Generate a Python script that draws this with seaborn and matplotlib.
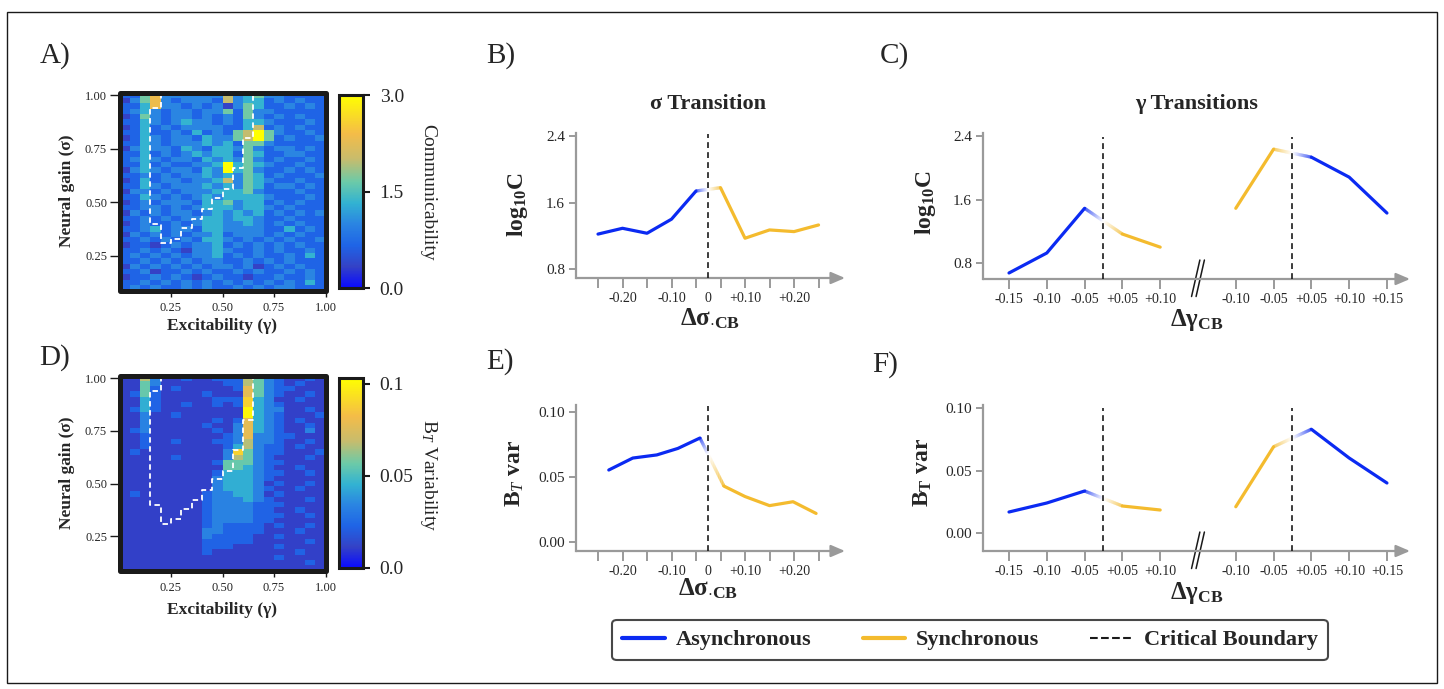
import numpy as np
import matplotlib
matplotlib.use('Agg')
import matplotlib.pyplot as plt
import matplotlib.transforms as mtransforms
import seaborn as sns
from matplotlib.colors import LinearSegmentedColormap, to_rgb
from matplotlib.collections import LineCollection
from matplotlib.lines import Line2D
from matplotlib.patches import Rectangle

sns.set_theme(style='white')
plt.rcParams['font.family'] = ['Liberation Serif', 'DejaVu Serif']
plt.rcParams['mathtext.fontset'] = 'custom'
plt.rcParams['mathtext.rm'] = 'Liberation Serif'
plt.rcParams['mathtext.it'] = 'Liberation Serif:italic'
plt.rcParams['mathtext.bf'] = 'Liberation Serif:bold'

# ---------------- data ----------------
# heatmaps: 20 gamma cells (0.05 wide, 0..1), 37 sigma rows (1.0 at top, 0.1 at bottom)
# digits are colour levels
comm_rows = [  # communicability, value = digit / 3
    "22573333336345332222", "13573233326344232322", "22473323231354223232",
    "23432332335253322222", "12532332323253232322", "22432343323244322232",
    "12423233332246232322", "22422324232569532232", "12432332433569523223",
    "22432333434255322222", "13433243244353233232", "22423234344254223322",
    "23432332434353232232", "22423223349454322322", "13432332439453223232",
    "22323233434354232223", "12423323346354322322", "22432333434354233232",
    "13323233344453222322", "22432323434444322232", "12323332445344232322",
    "22332323444344323222", "13232332343434232323", "22323233443443223222",
    "12322323443343232322", "22342332443333224232", "13232323342333232322",
    "22323232443232323223", "12212323342323232322", "22323213343223232232",
    "23232323342323223242", "22323232332232323222", "13232323233231232322",
    "22312232322323223232", "12232321232212232232", "22323232323232323242",
    "23232232322323233222",
]
btvar_rows = [  # B_T variability, value = digit / 90
    "11631121122265321121", "11531111112265321211", "11521211111275322111",
    "12521111211175321121", "11421111122284311211", "11421121121284321111",
    "12421111111194331121", "11311211111194321112", "11311111121274321211",
    "11311111211374321121", "12311111121374321131", "11211111112373322111",
    "11211211122363321121", "11211111112463221211", "12111111113853221112",
    "11111211113653211121", "11111111125553221111", "11111111115543211211",
    "11111111124443221121", "11111111134443211111", "11111111134443121121",
    "11111111134443211211", "12111111233443121111", "11111111233343211121",
    "11111111233332221111", "11111111233332211211", "11111111233332221121",
    "11111111233332211111", "11111111232222121121", "11111111332222111211",
    "11111111322221121111", "11111111222221111121", "11111111222111121111",
    "11111111211111111211", "11111111111111121111", "11111111111111111121",
    "11111111111111111111",
]
hm_ticks = [0.25, 0.50, 0.75, 1.00]
hm_tick_labels = ['0.25', '0.50', '0.75', '1.00']
# critical boundary (gamma, sigma) vertices
cb_gamma = [0.20, 0.20, 0.15, 0.15, 0.20, 0.20, 0.25, 0.25, 0.30, 0.30, 0.35, 0.35,
            0.40, 0.40, 0.45, 0.45, 0.50, 0.50, 0.55, 0.55, 0.60, 0.60, 0.65, 0.65]
cb_sigma = [1.01, 0.94, 0.94, 0.40, 0.40, 0.31, 0.31, 0.33, 0.33, 0.38, 0.38, 0.42,
            0.42, 0.47, 0.47, 0.52, 0.52, 0.56, 0.56, 0.66, 0.66, 0.80, 0.80, 1.01]

# sigma transition (B, E): offsets from critical boundary
sig_async_d = [-0.25, -0.20, -0.15, -0.10, -0.05]
sig_sync_d = [0.05, 0.10, 0.15, 0.20, 0.25]
sig_logc_async = [1.22, 1.29, 1.23, 1.40, 1.74]
sig_logc_sync = [1.78, 1.17, 1.27, 1.25, 1.33]
sig_bt_async_d = [-0.228, -0.179, -0.130, -0.087, -0.042]
sig_bt_sync_d = [0.057, 0.100, 0.150, 0.198, 0.245]
sig_bt_async = [0.0554, 0.0646, 0.067, 0.072, 0.080]
sig_bt_sync = [0.043, 0.035, 0.028, 0.031, 0.022]

# gamma transitions (C, F): low-gamma boundary and high-gamma boundary
gam1_async_d = [-0.15, -0.10, -0.05]
gam1_sync_d = [0.05, 0.10]
gam2_sync_d = [-0.10, -0.05]
gam2_async_d = [0.05, 0.10, 0.15]
gam1_logc_async = [0.674, 0.926, 1.49]
gam1_logc_sync = [1.165, 1.00]
gam2_logc_sync = [1.49, 2.236]
gam2_logc_async = [2.135, 1.883, 1.43]
gam1_bt_async = [0.0168, 0.024, 0.0336]
gam1_bt_sync = [0.0216, 0.0184]
gam2_bt_sync = [0.021, 0.069]
gam2_bt_async = [0.083, 0.060, 0.040]

sig_tick_pos = list(range(10))
sig_tick_labels = ['', '-0.20', '', '-0.10', '', '', '+0.10', '', '+0.20', '']
gam_tick_pos = [0, 1, 2, 3, 4, 6, 7, 8, 9, 10]
gam_tick_labels = ['-0.15', '-0.10', '-0.05', '+0.05', '+0.10',
                   '-0.10', '-0.05', '+0.05', '+0.10', '+0.15']

# ---------------- style ----------------
BLUE = '#0b2af2'
YELLOW = '#f4bb2e'
GREY = '#9a9a9a'
LW = 2.3
DASH = (0, (3.5, 2.5))
cmap = LinearSegmentedColormap.from_list('parulaish', [
    (0.00, '#0a0aff'), (0.11, '#3442c6'), (0.22, '#1f64e6'), (0.33, '#2a84e2'),
    (0.44, '#32b2d2'), (0.55, '#6ccaa8'), (0.67, '#c8bc6c'), (0.80, '#f4bc48'),
    (1.00, '#ffff00')])

W, H = 1444, 689
fig = plt.figure(figsize=(W / 100, H / 100), dpi=100)


def box(x0, y0, x1, y1):
    return [x0 / W, 1 - y1 / H, (x1 - x0) / W, (y1 - y0) / H]


SIG_TOP, CELL_S, CELL_G = 1.0125, 0.025, 0.05


def heat(ax, cax, grid, vmax, cticks, clabels, clabel, clabel_y):
    sns.heatmap(grid, ax=ax, cmap=cmap, vmin=0, vmax=vmax, cbar_ax=cax,
                xticklabels=False, yticklabels=False)
    ax.set_xticks([g / CELL_G for g in hm_ticks])
    ax.set_xticklabels(hm_tick_labels, rotation=0)
    ax.set_yticks([(SIG_TOP - s) / CELL_S for s in hm_ticks])
    ax.set_yticklabels(hm_tick_labels, rotation=0)
    ax.tick_params(axis='y', left=True, length=7.5, width=1, color='k', pad=1.5, labelsize=9)
    ax.tick_params(axis='x', bottom=True, length=4, width=1, color='k', pad=4, labelsize=9)
    ax.plot(np.array(cb_gamma) / CELL_G, (SIG_TOP - np.array(cb_sigma)) / CELL_S,
            color='white', ls=(0, (3, 2)), lw=1.3)
    ax.add_patch(Rectangle((0, 0), 1, 1, transform=ax.transAxes, fill=False, ec='k',
                           lw=3.6, clip_on=False, joinstyle='round', zorder=10))
    cbar = ax.collections[0].colorbar
    cbar.set_ticks(cticks)
    cbar.set_ticklabels(clabels)
    cbar.outline.set_edgecolor('k')
    cbar.outline.set_linewidth(2.2)
    cax.tick_params(right=True, length=5, width=1.5, color='k', labelsize=14, pad=7)
    fig.text(428 / W, 1 - clabel_y / H, clabel, rotation=270, ha='center', va='center', fontsize=14)


comm = np.array([[int(c) for c in r] for r in comm_rows]) / 3
btvar = np.array([[int(c) for c in r] for r in btvar_rows]) / 90

axA = fig.add_axes(box(119.5, 92.5, 325.5, 290.5))
caxA = fig.add_axes(box(339, 95, 363, 288))
heat(axA, caxA, comm, 3.0, [0, 1.5, 3.0], ['0.0', '1.5', '3.0'], 'Communicability', 192)

axD = fig.add_axes(box(119.5, 375.5, 325.5, 570.5))
caxD = fig.add_axes(box(339, 378, 363, 568))
heat(axD, caxD, btvar, 0.103, [0, 0.05, 0.1], ['0.0', '0.05', '0.1'],
     r'B$_{\mathit{T}}$ Variability', 475)

for yc, yl in [(191, 326), (473, 610)]:
    fig.text(67 / W, 1 - yc / H, 'Neural gain (σ)', rotation=90, ha='center', va='center',
             fontsize=12.5, fontweight='bold')
    fig.text(222 / W, 1 - yl / H, 'Excitability (γ)', ha='center', va='center',
             fontsize=12.5, fontweight='bold')


def to_pos(d, cb):
    d = np.asarray(d, float)
    return cb + d / 0.05 + np.where(d < 0, 0.5, -0.5)


def fade(ax, x0, y0, x1, y1, c0, c1, n=40):
    xs = np.linspace(x0, x1, n + 1)
    ys = np.linspace(y0, y1, n + 1)
    segs = np.stack([np.column_stack([xs[:-1], ys[:-1]]), np.column_stack([xs[1:], ys[1:]])], axis=1)
    t = np.linspace(0, 1, n)[:, None]
    cols = (1 - t) * np.array(to_rgb(c0)) + t * np.array(to_rgb(c1))
    ax.add_collection(LineCollection(segs, colors=cols, lw=LW, capstyle='butt'))


def group(ax, cb, ld, ly, lc, rd, ry, rc, ymax):
    lx, rx = to_pos(ld, cb), to_pos(rd, cb)
    sns.lineplot(x=lx, y=ly, ax=ax, color=lc, lw=LW, estimator=None, sort=False)
    sns.lineplot(x=rx, y=ry, ax=ax, color=rc, lw=LW, estimator=None, sort=False)
    x0, y0, x1, y1 = lx[-1], ly[-1], rx[0], ry[0]
    yc = y0 + (y1 - y0) * (cb - x0) / (x1 - x0)
    fade(ax, x0, y0, cb, yc, lc, 'white')
    fade(ax, cb, yc, x1, y1, 'white', rc)
    ax.axvline(cb, ymax=ymax, color='k', ls=DASH, lw=1.2, zorder=5)


def style(ax, xlim, ylim, yticks, ylabels, xpos, xlabels, zero=None):
    ax.set_xlim(xlim)
    ax.set_ylim(ylim)
    for s in ['top', 'right', 'bottom']:
        ax.spines[s].set_visible(False)
    ax.spines['left'].set_color(GREY)
    ax.spines['left'].set_linewidth(1.6)
    ax.annotate('', xy=(1, 0), xytext=(0, 0), xycoords='axes fraction',
                arrowprops=dict(arrowstyle='-|>,head_length=0.7,head_width=0.3',
                                lw=1.6, color=GREY, shrinkA=0, shrinkB=0))
    ax.set_yticks(yticks)
    ax.set_yticklabels(ylabels)
    ax.set_xticks(xpos)
    ax.set_xticklabels(xlabels)
    ax.tick_params(axis='y', left=True, length=5, width=1.4, color=GREY, pad=3, labelsize=11)
    ax.tick_params(axis='x', bottom=True, length=7, width=1.4, color=GREY, pad=3, labelsize=10)
    if zero is not None:
        ax.set_xticks([zero], minor=True)
        ax.set_xticklabels(['0'], minor=True)
        ax.tick_params(axis='x', which='minor', bottom=True, length=0, pad=10, labelsize=10)
    ax.set_xlabel('')
    ax.set_ylabel('')
    ax.grid(False)


def broken(ax):
    tr = mtransforms.blended_transform_factory(ax.transData, ax.transAxes)
    for dx in (-0.06, 0.06):
        ax.plot([4.89 + dx, 5.11 + dx], [-0.12, 0.13], color='k', lw=1.1,
                transform=tr, clip_on=False)


axB = fig.add_axes(box(576, 133, 845, 278))
group(axB, 4.5, sig_async_d, sig_logc_async, BLUE, sig_sync_d, sig_logc_sync, YELLOW, 0.99)
style(axB, (-0.898, 10.08), (0.69, 2.44), [0.8, 1.6, 2.4], ['0.8', '1.6', '2.4'],
      sig_tick_pos, sig_tick_labels, zero=4.5)

axE = fig.add_axes(box(576, 405, 845, 551))
group(axE, 4.5, sig_bt_async_d, sig_bt_async, BLUE, sig_bt_sync_d, sig_bt_sync, YELLOW, 0.99)
style(axE, (-0.898, 10.08), (-0.0069, 0.1054), [0, 0.05, 0.10], ['0.00', '0.05', '0.10'],
      sig_tick_pos, sig_tick_labels, zero=4.5)

axC = fig.add_axes(box(983, 133, 1410, 279))
group(axC, 2.5, gam1_async_d, gam1_logc_async, BLUE, gam1_sync_d, gam1_logc_sync, YELLOW, 0.97)
group(axC, 7.5, gam2_sync_d, gam2_logc_sync, YELLOW, gam2_async_d, gam2_logc_async, BLUE, 0.97)
style(axC, (-0.688, 10.61), (0.598, 2.44), [0.8, 1.6, 2.4], ['0.8', '1.6', '2.4'],
      gam_tick_pos, gam_tick_labels)
broken(axC)

axF = fig.add_axes(box(983, 405, 1410, 551))
group(axF, 2.5, gam1_async_d, gam1_bt_async, BLUE, gam1_sync_d, gam1_bt_sync, YELLOW, 0.98)
group(axF, 7.5, gam2_sync_d, gam2_bt_sync, YELLOW, gam2_async_d, gam2_bt_async, BLUE, 0.98)
style(axF, (-0.688, 10.61), (-0.0144, 0.1024), [0, 0.05, 0.10], ['0.00', '0.05', '0.10'],
      gam_tick_pos, gam_tick_labels)
broken(axF)

# titles and axis labels
fig.text(708 / W, 1 - 104 / H, 'σ Transition', ha='center', va='center', fontsize=16, fontweight='bold')
fig.text(1197 / W, 1 - 104 / H, 'γ Transitions', ha='center', va='center', fontsize=16, fontweight='bold')
ylab_logc = r'log$_{\mathbf{10}}$C'
fig.text(518 / W, 1 - 205 / H, ylab_logc, rotation=90, ha='center', va='center', fontsize=17, fontweight='bold')
fig.text(925 / W, 1 - 203 / H, ylab_logc, rotation=90, ha='center', va='center', fontsize=17, fontweight='bold')
fig.text(515 / W, 1 - 473 / H, r'B$_{\mathit{T}}$ var', rotation=90, ha='center', va='center', fontsize=17, fontweight='bold')
fig.text(923 / W, 1 - 473 / H, r'B$_{\mathbf{T}}$ var', rotation=90, ha='center', va='center', fontsize=17, fontweight='bold')
xlab_sig = r'Δσ$_{\mathbf{\cdot CB}}$'
xlab_gam = r'Δγ$_{\mathbf{CB}}$'
fig.text(710 / W, 1 - 319 / H, xlab_sig, ha='center', va='center', fontsize=18, fontweight='bold')
fig.text(708 / W, 1 - 589 / H, xlab_sig, ha='center', va='center', fontsize=18, fontweight='bold')
fig.text(1197 / W, 1 - 320 / H, xlab_gam, ha='center', va='center', fontsize=18, fontweight='bold')
fig.text(1197 / W, 1 - 593 / H, xlab_gam, ha='center', va='center', fontsize=18, fontweight='bold')

# panel letters
for lab, x, y in [('A)', 40, 56), ('B)', 486, 56), ('C)', 880, 56),
                  ('D)', 39, 358), ('E)', 486, 362), ('F)', 872, 365)]:
    fig.text(x / W, 1 - y / H, lab, ha='left', va='center', fontsize=21)

# legend
handles = [Line2D([], [], color=BLUE, lw=3), Line2D([], [], color=YELLOW, lw=3),
           Line2D([], [], color='k', ls='--', lw=1.5)]
leg = fig.legend(handles, ['Asynchronous', 'Synchronous', 'Critical Boundary'],
                 loc='center', bbox_to_anchor=(970 / W, 1 - 640 / H), ncol=3, frameon=True,
                 fancybox=True, edgecolor='k', prop=dict(weight='bold', size=16),
                 handlelength=1.9, handletextpad=0.5, columnspacing=2.3, borderpad=0.45)
leg.get_frame().set_linewidth(1.5)

fig.add_artist(Rectangle((7 / W, 1 - 683 / H), (1437 - 7) / W, (683 - 12) / H,
                         transform=fig.transFigure, fill=False, ec='k', lw=1.0))

fig.savefig('out.png', dpi=100)
